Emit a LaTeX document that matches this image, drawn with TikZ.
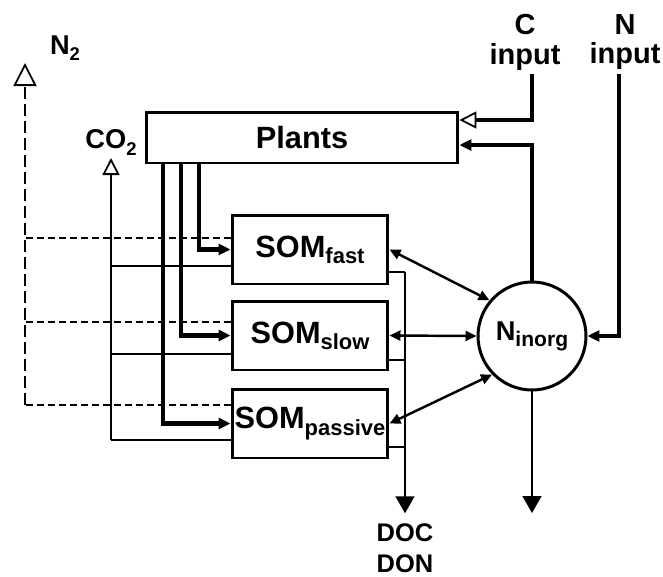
\documentclass[tikz,border=0pt]{standalone}
\usepackage{fontspec}
\setmainfont{Liberation Sans}
\usetikzlibrary{arrows.meta}
\newcommand{\lowsub}[2][12.5]{\raisebox{-3.5pt}{\fontsize{#1}{#1}\selectfont #2}}
\begin{document}
\begin{tikzpicture}[x=0.02cm,y=-0.02cm]
        \tikzset{pool node/.style={rectangle,draw=black,line width=1.7pt,minimum width=3.12cm,minimum height=1.38cm,inner sep=0pt,font=\fontsize{17.5}{20}\selectfont\bfseries},
          label text/.style={align=center,inner sep=2pt,font=\fontsize{16.5}{17}\selectfont\bfseries},
          flow/.style={line width=2.3pt,-{Triangle[length=0.24cm,width=0.22cm]}},
          open in/.style={line width=2.3pt,-{Triangle[open,line width=1pt,length=0.34cm,width=0.34cm]}},
          resp line/.style={line width=1.1pt},
          n2 line/.style={line width=1.6pt,dash pattern=on 0.24cm off 0.1cm},
          n2 branch/.style={line width=1.1pt,dash pattern=on 0.14cm off 0.08cm},
          exch/.style={line width=1.4pt,{Triangle[length=0.22cm,width=0.2cm]}-{Triangle[length=0.22cm,width=0.2cm]}},
          drain/.style={line width=1pt,-{Triangle[length=0.34cm,width=0.38cm]}},
          stub/.style={line width=0.6pt}}
        \useasboundingbox (0,0) rectangle (663,576);
        % pools
        \node[pool node, minimum width=6.24cm, minimum height=1.02cm] (plants) at (302,137.5) {Plants};
        \node[pool node] (fast) at (310,249.5) {SOM\lowsub{fast}};
        \node[pool node] (slow) at (310,335.5) {SOM\lowsub{slow}};
        \node[pool node] (passive) at (310,423.5) {SOM\lowsub{passive}};
        \node[circle, draw=black, line width=1.7pt, minimum size=2.16cm, inner sep=0pt, font=\fontsize{15.5}{18}\selectfont\bfseries] (ninorg) at (532,336) {N\lowsub[12]{inorg}};
        % labels
        \node[label text] (cin) at (525,42) {C\\input};
        \node[label text] (nin) at (625,42) {N\\input};
        \coordinate (co2tip) at (111,158);
        \node[label text, anchor=south, inner sep=1.5pt, font=\fontsize{15.5}{17}\selectfont\bfseries] (co2) at (co2tip) {CO\lowsub[10.5]{2}};
        \coordinate (n2tip) at (25,63);
        \node[label text, font=\fontsize{15.5}{17}\selectfont\bfseries] (n2) at (65,48) {N\lowsub[10.5]{2}};
        \node[label text, font=\fontsize{14.5}{17.5}\selectfont\bfseries, inner sep=0.2cm] (doc) at (405,548) {DOC\\DON};
        \coordinate (leach) at (532,513);
        % inputs
        \draw[open in] (cin.south -| ninorg) |- ([yshift=0.35cm]plants.east);
        \draw[flow] (ninorg.north) |- ([yshift=-0.15cm]plants.east);
        \draw[flow] ([xshift=-0.12cm]nin.south) |- (ninorg.east);
        % plant litter
        \draw[flow] ([xshift=1.08cm]plants.south west) |- (fast.west);
        \draw[flow] ([xshift=0.72cm]plants.south west) |- (slow.west);
        \draw[flow] ([xshift=0.36cm]plants.south west) |- (passive.west);
        % losses
        \foreach \s/\c/\n/\d in {fast/266/238/272, slow/354/322/360, passive/440/405/447}{
          \draw[resp line] (\s.west |- 0,\c) -- (co2tip |- 0,\c);
          \draw[n2 branch] (\s.west |- 0,\n) -- (n2tip |- 0,\n);
          \draw[stub] (\s.east |- 0,\d) -- (doc |- 0,\d);
        }
        \draw[resp line, -{Triangle[open,line width=1pt,length=0.34cm,width=0.34cm]}] (co2tip |- 0,440) -- (co2tip);
        \draw[n2 line, -{Triangle[open,line width=1pt,length=0.46cm,width=0.46cm]}] (n2tip |- 0,405) -- (n2tip);
        \draw[drain] (doc |- 0,272) -- (doc.north);
        \draw[drain] (ninorg.south) -- (leach);
        % exchange with mineral N
        \draw[exch] (fast.east) -- (ninorg.140);
        \draw[exch] (slow.east) -- (ninorg.west);
        \draw[exch] (passive.east) -- (ninorg.224);
\end{tikzpicture}
\end{document}
